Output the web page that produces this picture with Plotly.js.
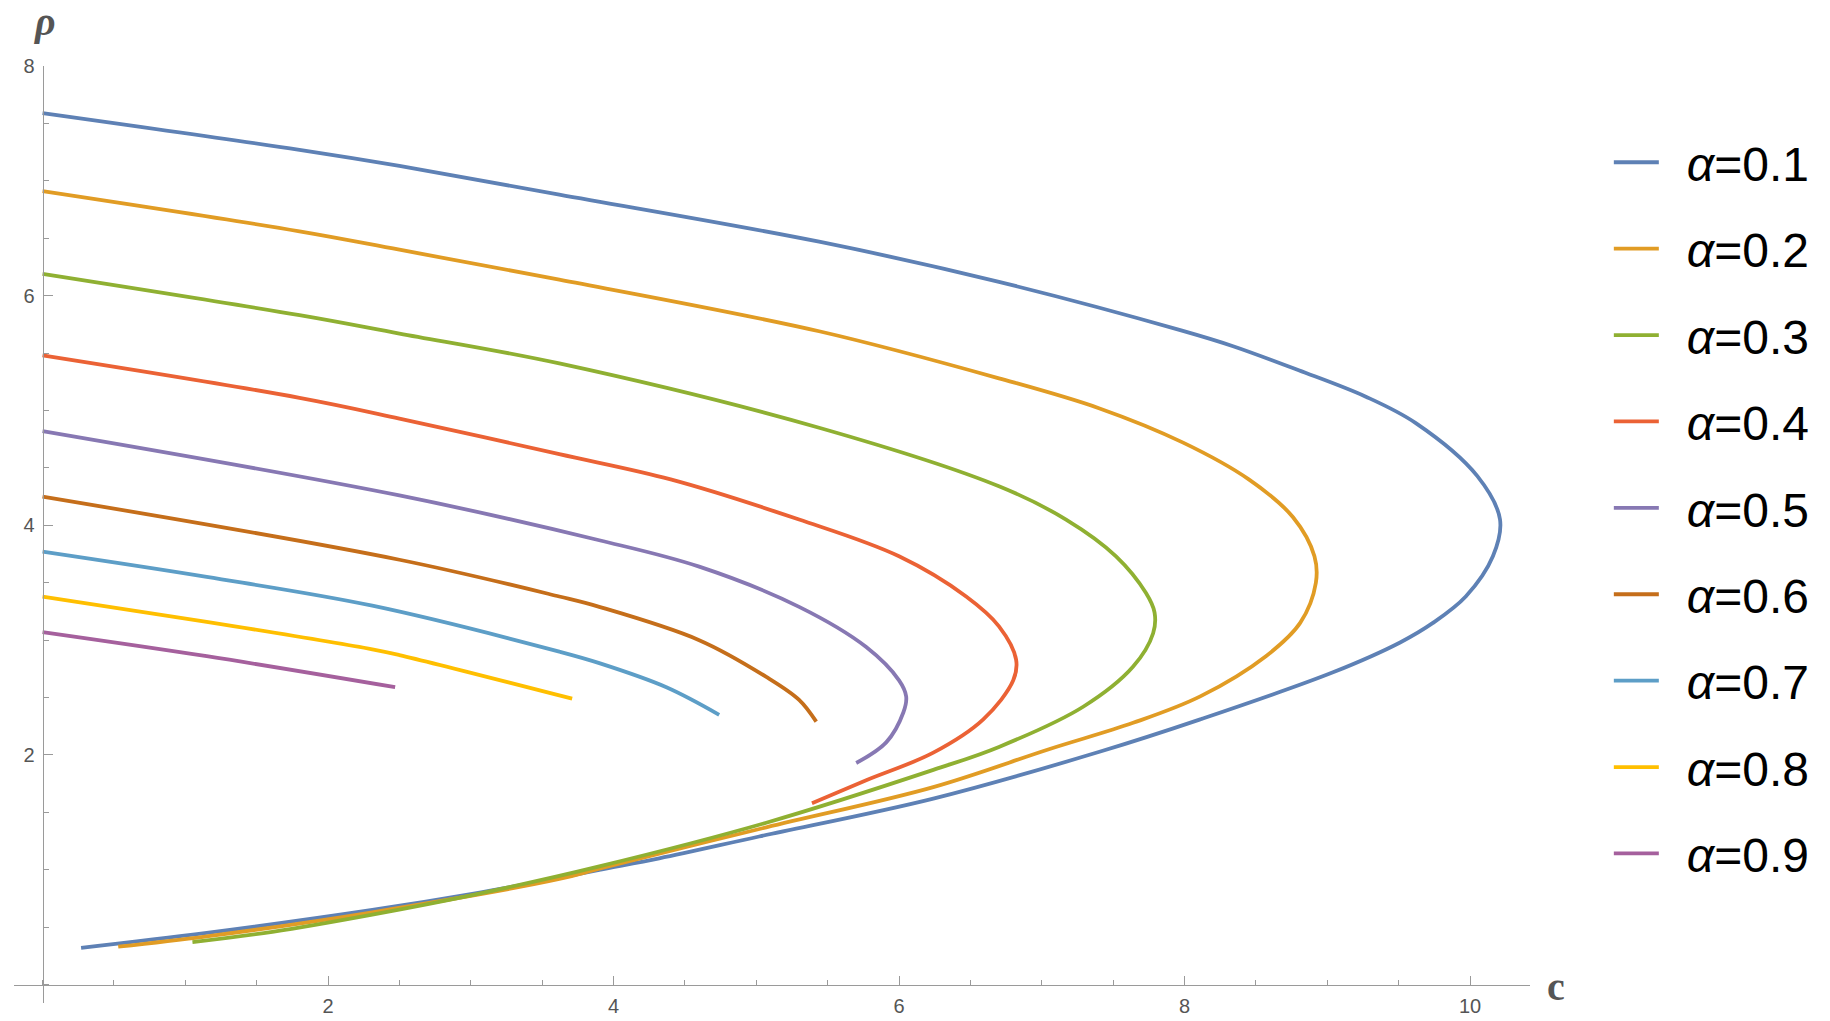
<!DOCTYPE html>
<html>
<head>
<meta charset="utf-8">
<script src="https://cdn.plot.ly/plotly-3.0.1.min.js"></script>
<style>html,body{margin:0;padding:0;background:#fff;}#chart{width:1830px;height:1021px;}</style>
</head>
<body>
<div id="chart"></div>
<script>
// Legend labels and colours (Mathematica default palette)
const alphas = ['0.1','0.2','0.3','0.4','0.5','0.6','0.7','0.8','0.9'];
const colors = ['#5E81B5','#E19C24','#8FB032','#EB6235','#8778B3','#C56E1A','#5D9EC7','#FFBF00','#A5609D'];

// Curves: c (x) and rho (y), following each curve from its upper start
const c_a01   = [0, 1.80, 2.50, 3.62, 5.44, 6.70, 7.97, 8.34, 8.80, 9.27, 9.62, 10.05, 10.21, 10.16, 9.97, 9.74, 9.51, 9.04, 8.11, 7.41, 6.24, 5.02, 4.32, 3.90, 3.62, 3.01, 2.31, 1.15, 0.27];
const rho_a01 = [7.59, 7.27, 7.13, 6.88, 6.47, 6.12, 5.70, 5.56, 5.35, 5.12, 4.89, 4.43, 4.05, 3.73, 3.38, 3.15, 2.98, 2.72, 2.31, 2.03, 1.62, 1.29, 1.10, 1.00, 0.93, 0.79, 0.65, 0.45, 0.32];

const c_a02   = [0, 1.80, 2.50, 3.62, 5.44, 6.70, 7.40, 7.99, 8.45, 8.76, 8.91, 8.92, 8.81, 8.57, 8.11, 7.64, 7.05, 6.24, 5.07, 3.90, 3.62, 2.31, 1.15, 0.53];
const rho_a02 = [6.91, 6.56, 6.40, 6.14, 5.69, 5.28, 5.02, 4.72, 4.40, 4.07, 3.73, 3.50, 3.15, 2.86, 2.51, 2.28, 2.05, 1.72, 1.37, 1.01, 0.92, 0.63, 0.42, 0.33];

const c_a03   = [0, 1.80, 2.50, 3.62, 5.44, 6.70, 7.17, 7.52, 7.73, 7.79, 7.78, 7.64, 7.29, 6.70, 6.24, 5.07, 3.90, 3.01, 2.31, 1.61, 1.05];
const rho_a03 = [6.19, 5.83, 5.67, 5.41, 4.85, 4.34, 4.05, 3.73, 3.41, 3.24, 3.06, 2.77, 2.42, 2.07, 1.87, 1.41, 1.03, 0.78, 0.61, 0.46, 0.37];

const c_a04   = [0, 1.80, 2.50, 3.62, 4.40, 5.30, 6.00, 6.47, 6.70, 6.82, 6.80, 6.59, 6.24, 5.77, 5.39];
const rho_a04 = [5.48, 5.11, 4.93, 4.62, 4.40, 4.05, 3.73, 3.38, 3.12, 2.83, 2.65, 2.31, 2.02, 1.78, 1.58];

const c_a05   = [0, 2.50, 3.90, 4.60, 5.30, 5.77, 6.00, 6.05, 6.03, 5.91, 5.70];
const rho_a05 = [4.82, 4.26, 3.87, 3.64, 3.29, 2.94, 2.65, 2.51, 2.37, 2.11, 1.93];

const c_a06   = [0, 2.50, 3.62, 3.90, 4.60, 5.07, 5.30, 5.42];
const rho_a06 = [4.25, 3.70, 3.38, 3.29, 3.00, 2.68, 2.48, 2.29];

const c_a07   = [0, 1.15, 2.31, 3.62, 3.90, 4.37, 4.74];
const rho_a07 = [3.77, 3.55, 3.30, 2.90, 2.80, 2.59, 2.35];

const c_a08   = [0, 1.15, 2.31, 2.50, 3.71];
const rho_a08 = [3.38, 3.16, 2.92, 2.87, 2.49];

const c_a09   = [0, 1.15, 2.47];
const rho_a09 = [3.07, 2.86, 2.59];

// Axis ticks
const xTickVals = [2, 4, 6, 8, 10];
const yTickVals = [2, 4, 6, 8];

const cs   = [c_a01, c_a02, c_a03, c_a04, c_a05, c_a06, c_a07, c_a08, c_a09];
const rhos = [rho_a01, rho_a02, rho_a03, rho_a04, rho_a05, rho_a06, rho_a07, rho_a08, rho_a09];

const traces = alphas.map((a, i) => ({
  type: 'scatter', mode: 'lines',
  x: cs[i], y: rhos[i],
  name: '&nbsp;&#8201;<i>α</i>=' + a,
  legendgroup: 'g' + i,
  line: {color: colors[i], width: 3.8, shape: 'spline', smoothing: 1.0},
  hoverinfo: 'x+y'
}));

const xr = [-0.2, 10.42], yr = [-0.16, 8.0];
const axisGray = '#9a9a9a';
const tickFont = {family: '"Liberation Sans Narrow", "Liberation Sans", Arial, sans-serif', size: 20, color: '#555555'};

const layout = {
  width: 1830, height: 1021, autosize: false,
  paper_bgcolor: '#ffffff', plot_bgcolor: '#ffffff',
  margin: {l: 14, r: 300, t: 66, b: 18, pad: 0},
  showlegend: true,
  legend: {
    x: 1.052, y: 0.9375, xanchor: 'left', yanchor: 'top',
    font: {family: '"Liberation Sans", Arial, sans-serif', size: 48, color: '#000000'},
    tracegroupgap: 21, itemwidth: 45, bgcolor: 'rgba(0,0,0,0)', borderwidth: 0,
    traceorder: 'grouped'
  },
  xaxis: {
    range: xr, anchor: 'free', position: (0 - yr[0]) / (yr[1] - yr[0]),
    showgrid: false, zeroline: false, showline: true, linecolor: axisGray, linewidth: 1.2,
    tickmode: 'array', tickvals: xTickVals, ticks: 'inside', ticklen: 9, tickwidth: 1, tickcolor: axisGray,
    tickfont: tickFont, ticklabelstandoff: 3,
    minor: {tickmode: 'linear', tick0: 0, dtick: 0.5, ticks: 'inside', ticklen: 5, tickwidth: 1, tickcolor: axisGray, showgrid: false}
  },
  yaxis: {
    range: yr, anchor: 'free', position: (0 - xr[0]) / (xr[1] - xr[0]),
    showgrid: false, zeroline: false, showline: true, linecolor: axisGray, linewidth: 1.2,
    tickmode: 'array', tickvals: yTickVals, ticks: 'inside', ticklen: 9, tickwidth: 1, tickcolor: axisGray,
    tickfont: tickFont, ticklabelstandoff: 4,
    minor: {tickmode: 'linear', tick0: 0, dtick: 0.5, ticks: 'inside', ticklen: 5, tickwidth: 1, tickcolor: axisGray, showgrid: false}
  },
  annotations: [
    {text: '<b><i>ρ</i></b>', xref: 'paper', yref: 'paper', x: 0.0205, y: 1.047, showarrow: false,
     xanchor: 'center', yanchor: 'middle',
     font: {family: '"Liberation Serif", "Times New Roman", serif', size: 40, color: '#555555'}},
    {text: '<b>c</b>', xref: 'paper', yref: 'y', x: 1.0172, y: -0.02, showarrow: false,
     xanchor: 'center', yanchor: 'middle',
     font: {family: '"Liberation Serif", "Times New Roman", serif', size: 40, color: '#555555'}}
  ]
};

Plotly.newPlot('chart', traces, layout, {displayModeBar: false, staticPlot: true});
</script>
</body>
</html>
